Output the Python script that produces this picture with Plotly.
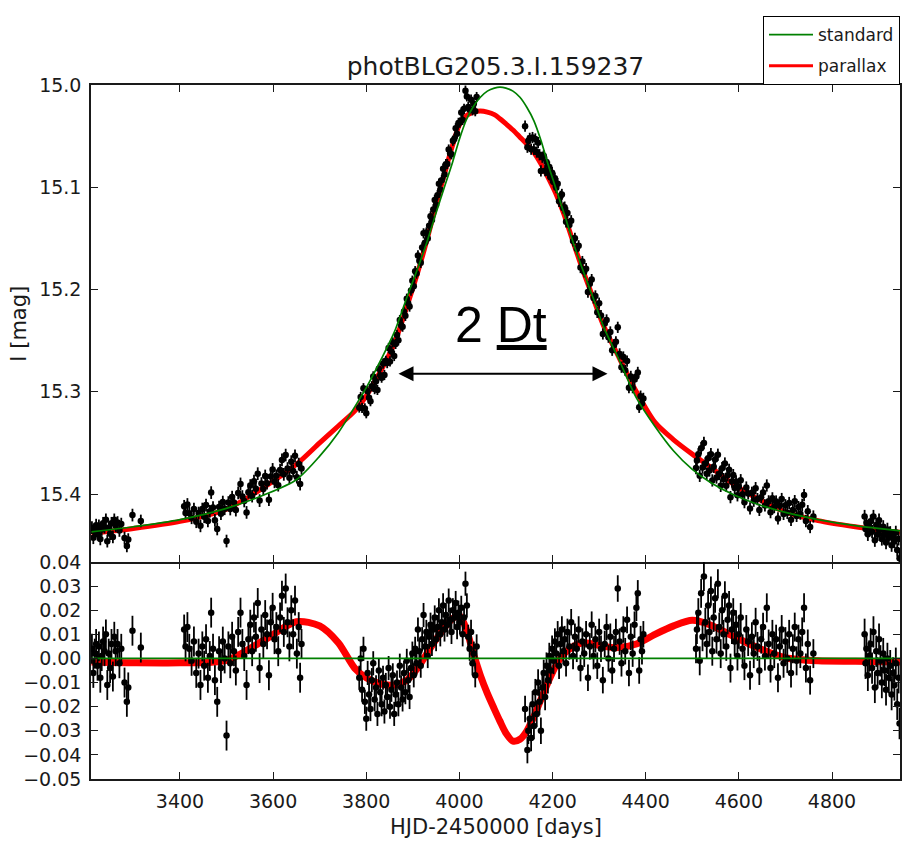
import numpy as np
import plotly.graph_objects as go

# ---------------- model curves ----------------
model_t = [3210, 3300, 3400, 3500, 3580, 3650, 3700, 3740, 3775, 3800,
           3830, 3860, 3887, 3910, 3930, 3950, 3967, 3985, 4000, 4015,
           4030, 4045, 4060, 4075, 4087, 4100, 4115, 4130, 4145, 4160,
           4175, 4190, 4207, 4225, 4245, 4265, 4287, 4310, 4340, 4380,
           4420, 4460, 4500, 4540, 4590, 4640, 4700, 4770, 4850, 4946]
std_mag = [15.437, 15.432, 15.425, 15.414, 15.401, 15.386, 15.363, 15.340, 15.315, 15.296,
           15.270, 15.242, 15.208, 15.180, 15.154, 15.125, 15.101, 15.076, 15.053, 15.034,
           15.021, 15.012, 15.006, 15.003, 15.002, 15.003, 15.006, 15.012, 15.022, 15.035,
           15.054, 15.077, 15.101, 15.126, 15.155, 15.181, 15.208, 15.237, 15.266, 15.306,
           15.334, 15.358, 15.376, 15.389, 15.401, 15.410, 15.418, 15.425, 15.431, 15.436]
par_mag = [15.4385, 15.4338, 15.4268, 15.4148, 15.3935, 15.371, 15.350, 15.3335, 15.319, 15.304,
           15.2805, 15.253, 15.217, 15.184, 15.152, 15.117, 15.0885, 15.0595, 15.039, 15.030,
           15.0265, 15.0255, 15.0265, 15.029, 15.033, 15.038, 15.044, 15.051, 15.058, 15.066,
           15.077, 15.090, 15.106, 15.127, 15.1545, 15.181, 15.208, 15.236, 15.264, 15.300,
           15.330, 15.347, 15.361, 15.374, 15.391, 15.4045, 15.4175, 15.426, 15.432, 15.4375]
par_res = [-0.0015, -0.0018, -0.0018, -0.0008, 0.0075, 0.0152, 0.0135, 0.0065, -0.004, -0.008,
           -0.0105, -0.011, -0.009, -0.004, 0.002, 0.008, 0.0125, 0.0165, 0.0178, 0.012,
           0.002, -0.007, -0.0145, -0.021, -0.026, -0.031, -0.0343, -0.0335, -0.030, -0.024,
           -0.017, -0.010, -0.003, 0.002, 0.005, 0.0065, 0.006, 0.005, 0.0045, 0.006,
           0.010, 0.0135, 0.0158, 0.0138, 0.009, 0.0045, 0.0003, -0.001, -0.0012, -0.0015]
std_res = [0.0] * len(model_t)

# ---------------- observations: times and residuals per season ----------------
s1_t = [3211, 3214, 3217, 3220, 3223, 3226, 3229, 3232, 3235, 3238, 3241, 3244, 3247,
        3250, 3253, 3256, 3259, 3262, 3266, 3270, 3274, 3281, 3286, 3289, 3298, 3316]
s1_r = [0.004, -0.006, 0.002, 0.006, -0.003, 0.005, -0.008, 0.001, 0.007, 0.003, 0.010, -0.011, 0.002,
        -0.004, 0.006, -0.0075, 0.009, 0.003, 0.006, -0.002, 0.004, -0.010, -0.018, -0.012, 0.0115, 0.0045]

s2_t = [3409, 3412, 3416, 3420, 3425, 3430, 3435, 3440, 3444, 3448, 3452, 3456, 3460, 3464, 3467,
        3471, 3475, 3480, 3484, 3488, 3492, 3496, 3500, 3504, 3508, 3512, 3516, 3520, 3525, 3530,
        3534, 3538, 3543, 3547, 3551, 3555, 3559, 3563, 3567, 3571, 3575, 3579, 3583, 3587, 3591,
        3595, 3599, 3603, 3607, 3611, 3615, 3619, 3623, 3627, 3631, 3635, 3639, 3643, 3647, 3651,
        3655, 3658, 3661]
s2_r = [0.012, 0.005, 0.013, 0.004, -0.001, 0.007, -0.006, 0.002, -0.011, 0.005, -0.003, 0.008, -0.008, 0.001, 0.019,
        0.004, -0.009, -0.018, 0.003, -0.004, 0.007, 0.000, -0.032, 0.005, -0.002, 0.009, 0.003, -0.005, 0.011, 0.019,
        0.006, 0.001, -0.011, 0.008, 0.014, 0.003, 0.017, 0.009, 0.023, -0.004, 0.012, 0.006, 0.018, 0.010, -0.007,
        0.015, 0.021, 0.008, 0.013, 0.003, 0.017, 0.026, 0.011, 0.029, 0.015, 0.005, 0.020, 0.010, 0.024, 0.002,
        0.013, -0.008, 0.006]

s3_t = [3785, 3788, 3791, 3794, 3797, 3800, 3803, 3806, 3809, 3812, 3815, 3818, 3821, 3824, 3827,
        3830, 3833, 3836, 3839, 3842, 3845, 3848, 3851, 3854, 3857, 3860, 3863, 3866, 3869, 3872,
        3875, 3878, 3881, 3884, 3887, 3890, 3893, 3896, 3899, 3902, 3905, 3908, 3911, 3914, 3917,
        3920, 3923, 3926, 3929, 3932, 3935, 3938, 3941, 3944, 3947, 3950, 3953, 3956, 3959, 3962,
        3965, 3968, 3971, 3974, 3977, 3980, 3983, 3986, 3989, 3992, 3995, 3998, 4001, 4004, 4007,
        4010, 4013, 4016, 4019, 4022, 4025, 4028, 4031, 4034, 4037]
s3_r = [-0.008, 0.000, -0.013, 0.004, -0.018, -0.025, -0.006, -0.015, -0.021, -0.009, -0.002, -0.017, -0.012, -0.023, -0.005,
        -0.014, -0.019, -0.008, -0.022, -0.011, -0.016, -0.004, -0.020, -0.013, -0.007, -0.023, -0.015, -0.010, -0.019, -0.003,
        -0.012, -0.017, -0.006, -0.014, -0.001, -0.009, -0.016, -0.004, 0.002, -0.007, 0.004, -0.002, 0.012, 0.003, -0.003,
        0.008, 0.018, 0.005, 0.011, 0.001, 0.009, 0.014, 0.006, 0.012, 0.017, 0.008, 0.013, 0.020, 0.010, 0.015,
        0.022, 0.012, 0.018, 0.014, 0.024, 0.016, 0.011, 0.020, 0.017, 0.023, 0.013, 0.019, 0.015, 0.021, 0.010,
        0.017, 0.031, 0.022, 0.009, 0.004, 0.011, -0.002, 0.002, -0.007, 0.005]

s4_t = [4141, 4146, 4148, 4151, 4154, 4157, 4160, 4163, 4166, 4169, 4172, 4175, 4178, 4181, 4184,
        4187, 4190, 4193, 4196, 4199, 4202, 4205, 4208, 4211, 4214, 4217, 4220, 4223, 4226, 4229,
        4232, 4236, 4240, 4244, 4248, 4252, 4256, 4260, 4264, 4268, 4272, 4276, 4280, 4284, 4288,
        4292, 4296, 4300, 4304, 4308, 4312, 4316, 4320, 4324, 4328, 4332, 4336, 4340, 4344, 4348,
        4352, 4356, 4360, 4364, 4368, 4372, 4376, 4380, 4383, 4386, 4389, 4392, 4395]
s4_r = [-0.021, -0.038, -0.030, -0.025, -0.033, -0.019, -0.028, -0.014, -0.023, -0.010, -0.018, -0.030, -0.012, -0.006, -0.016,
        -0.003, -0.009, 0.001, -0.005, 0.004, -0.001, 0.007, 0.002, 0.010, -0.003, 0.006, 0.012, 0.003, 0.008, -0.002,
        0.011, 0.005, 0.015, 0.001, 0.009, 0.004, 0.012, -0.004, 0.007, 0.002, 0.010, -0.008, 0.005, 0.014, 0.001,
        0.008, -0.003, 0.011, 0.004, -0.009, 0.006, 0.013, 0.000, 0.009, -0.005, 0.004, 0.011, 0.029, 0.007, -0.002,
        0.012, 0.003, 0.016, -0.006, 0.009, 0.002, 0.014, 0.021, 0.027, -0.005, 0.008, 0.003, 0.010]

s5_t = [4508, 4510, 4513, 4516, 4519, 4522, 4525, 4528, 4531, 4534, 4537, 4540, 4543, 4546, 4549,
        4552, 4555, 4558, 4561, 4564, 4567, 4570, 4573, 4576, 4579, 4582, 4585, 4588, 4591, 4594,
        4597, 4600, 4604, 4608, 4612, 4616, 4620, 4624, 4628, 4632, 4636, 4640, 4644, 4648, 4652,
        4656, 4660, 4664, 4668, 4672, 4676, 4680, 4684, 4688, 4692, 4696, 4700, 4704, 4708, 4712,
        4716, 4720, 4724, 4728, 4732, 4736, 4740, 4744, 4748, 4753, 4760]
s5_r = [0.004, 0.012, 0.019, -0.001, 0.027, 0.009, 0.034, 0.015, 0.006, 0.022, 0.011, 0.028, 0.003, 0.017, 0.025,
        0.008, 0.031, 0.013, 0.002, 0.020, 0.010, 0.026, 0.005, 0.016, 0.022, -0.004, 0.012, 0.019, 0.007, 0.014,
        0.001, 0.010, 0.017, 0.004, -0.003, 0.012, 0.007, -0.007, 0.009, 0.002, 0.015, 0.005, -0.005, 0.008, 0.013,
        0.001, 0.021, 0.006, -0.004, 0.010, 0.002, 0.008, -0.008, 0.005, 0.012, -0.002, 0.007, 0.000, 0.010, -0.006,
        0.004, 0.013, -0.001, 0.008, 0.002, 0.011, 0.021, -0.004, 0.006, -0.009, 0.002]

s6_t = [4870, 4872, 4874, 4877, 4880, 4883, 4886, 4889, 4892, 4895, 4898, 4901, 4904, 4907, 4910,
        4913, 4916, 4919, 4922, 4925, 4928, 4931, 4934, 4937, 4940, 4943, 4945]
s6_r = [0.010, -0.002, 0.004, -0.007, 0.001, 0.006, -0.004, 0.011, -0.012, 0.003, -0.006, 0.008, -0.001, -0.010, 0.002,
        -0.005, -0.013, 0.000, -0.008, -0.003, -0.015, -0.006, -0.011, -0.002, -0.019, -0.008, -0.027]

season_err = [0.0062, 0.0062, 0.005, 0.0055, 0.006, 0.0065]

x_ticks = [3400, 3600, 3800, 4000, 4200, 4400, 4600, 4800]
y_top_ticks = [15.0, 15.1, 15.2, 15.3, 15.4]
y_bot_ticks = [0.04, 0.03, 0.02, 0.01, 0.00, -0.01, -0.02, -0.03, -0.04, -0.05]

# ---------------- assemble ----------------
seasons_t = [s1_t, s2_t, s3_t, s4_t, s5_t, s6_t]
seasons_r = [s1_r, s2_r, s3_r, s4_r, s5_r, s6_r]
for a, b in zip(seasons_t, seasons_r):
    assert len(a) == len(b), (len(a), len(b))
obs_t = np.concatenate([np.array(t, float) for t in seasons_t])
obs_r = np.concatenate([np.array(r, float) for r in seasons_r])
obs_e = np.concatenate([np.full(len(t), e) for t, e in zip(seasons_t, season_err)])
# residual = standard model - observed magnitude  ->  observed = model - residual
obs_mag = np.interp(obs_t, model_t, std_mag) - obs_r

FONT = "DejaVu Sans"
GREEN = "#008000"
RED = "#ff0000"
TXT = "#1a1a1a"
MS = 6.5
ET = 1.8

fig = go.Figure()

# top panel
fig.add_trace(go.Scatter(x=model_t, y=par_mag, mode="lines", showlegend=False,
                         line=dict(color=RED, width=5, shape="spline", smoothing=0.8),
                         xaxis="x", yaxis="y"))
fig.add_trace(go.Scatter(x=obs_t, y=obs_mag, mode="markers", showlegend=False,
                         marker=dict(color="black", size=MS),
                         error_y=dict(type="data", array=obs_e, color="black", thickness=ET, width=0),
                         xaxis="x", yaxis="y"))
fig.add_trace(go.Scatter(x=model_t, y=std_mag, mode="lines", name="standard",
                         line=dict(color=GREEN, width=1.7, shape="spline", smoothing=0.8),
                         legendrank=1, legendgroup="s", xaxis="x", yaxis="y"))
# legend entry for parallax (thin line like the reference legend)
fig.add_trace(go.Scatter(x=[None], y=[None], mode="lines", name="parallax",
                         line=dict(color=RED, width=3), legendrank=2, legendgroup="p",
                         xaxis="x", yaxis="y"))

# bottom panel
fig.add_trace(go.Scatter(x=model_t, y=par_res, mode="lines", showlegend=False,
                         line=dict(color=RED, width=7, shape="spline", smoothing=0.8),
                         xaxis="x2", yaxis="y2"))
fig.add_trace(go.Scatter(x=obs_t, y=obs_r, mode="markers", showlegend=False,
                         marker=dict(color="black", size=MS),
                         error_y=dict(type="data", array=obs_e, color="black", thickness=ET, width=0),
                         xaxis="x2", yaxis="y2"))
fig.add_trace(go.Scatter(x=model_t, y=std_res, mode="lines", showlegend=False,
                         line=dict(color=GREEN, width=1.7), xaxis="x3", yaxis="y2"))

split = 217 / 694.0
xr = [3209, 4946]
tick_common = dict(ticks="inside", ticklen=7, tickwidth=1.2, tickcolor="#1a1a1a",
                   showgrid=False, zeroline=False,
                   tickfont=dict(family=FONT, size=19, color=TXT))
axis_common = dict(showline=True, linecolor="#1a1a1a", linewidth=1.5, mirror="ticks", **tick_common)

fig.update_layout(
    width=904, height=844,
    margin=dict(l=91, r=2, t=85, b=65),
    paper_bgcolor="white", plot_bgcolor="white",
    font=dict(family=FONT, color=TXT),
    title=dict(text="photBLG205.3.I.159237", x=0.5, xref="paper", xanchor="center",
               y=1 - 66 / 844, yref="container", yanchor="middle",
               font=dict(family=FONT, size=25, color=TXT)),
    xaxis=dict(domain=[0, 1], anchor="y", range=xr, tickvals=x_ticks,
               showticklabels=False, **axis_common),
    yaxis=dict(domain=[split, 1], anchor="x", range=[15.4665, 15.0], tickvals=y_top_ticks,
               tickformat=".1f", ticklabelstandoff=4, **axis_common),
    xaxis2=dict(domain=[0, 1], anchor="y2", range=xr, tickvals=x_ticks,
                ticktext=[str(v) for v in x_ticks], ticklabelstandoff=4,
                showline=True, linecolor="#1a1a1a", linewidth=1.5, mirror=False, **tick_common),
    xaxis3=dict(overlaying="x2", anchor="y2", side="top", range=xr, tickvals=x_ticks,
                showticklabels=False, showline=False, **tick_common),
    yaxis2=dict(domain=[0, split], anchor="x2", range=[-0.05, 0.04], tickvals=y_bot_ticks,
                tickformat=".2f", ticklabelstandoff=4, **axis_common),
    legend=dict(x=1, xanchor="right", y=1.0, yanchor="bottom", bgcolor="white",
                bordercolor="black", borderwidth=1, tracegroupgap=6, itemwidth=44,
                font=dict(family=FONT, size=17, color=TXT)),
    showlegend=True,
)

annotations = [
    dict(text="I [mag]", textangle=-90, xref="paper", yref="paper",
         x=-73 / 811, y=(split + 1) / 2, xanchor="center", yanchor="middle",
         showarrow=False, font=dict(family=FONT, size=21, color=TXT)),
    dict(text="HJD-2450000 [days]", xref="paper", yref="paper",
         x=0.5, y=(779 - 827) / 694, xanchor="center", yanchor="middle",
         showarrow=False, font=dict(family=FONT, size=21, color=TXT)),
    dict(text="2 <u>Dt</u>", xref="x", yref="y", x=4090, y=15.2345,
         xanchor="center", yanchor="middle", showarrow=False,
         font=dict(family="Liberation Sans", size=50, color="black")),
    dict(text="", xref="x", yref="y", x=4318, y=15.2825,
         axref="x", ayref="y", ax=3866, ay=15.2825, showarrow=True,
         arrowside="end+start", arrowhead=2, startarrowhead=2,
         arrowsize=1.5, startarrowsize=1.5, arrowwidth=2, arrowcolor="black", standoff=0,
         startstandoff=0),
]
fig.update_layout(annotations=annotations)

fig.write_html("out.html")
